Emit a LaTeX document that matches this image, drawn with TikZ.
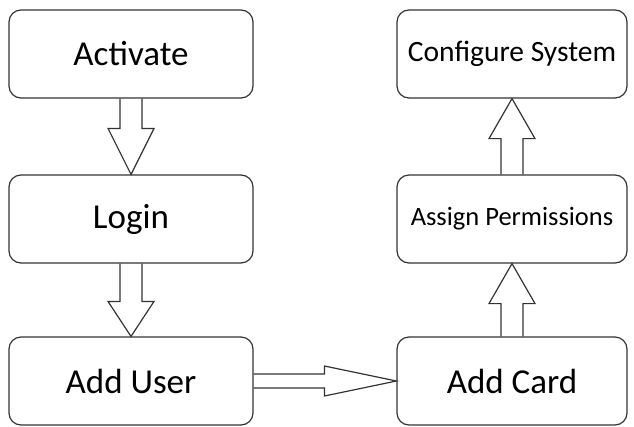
\documentclass[tikz,border=0pt]{standalone}
\usepackage{fontspec}
\setmainfont{Carlito}
\usetikzlibrary{calc}

\newcommand{\flowarrow}[5]{%
  \coordinate (hb) at ($(#2)!#5!(#1)$);
  \draw[arrowline] ($(#1)!#3!90:(#2)$) -- ($(hb)!#3!-90:(#1)$) -- ($(hb)!#4!-90:(#1)$) -- (#2)
    -- ($(hb)!#4!90:(#1)$) -- ($(hb)!#3!90:(#1)$) -- ($(#1)!#3!-90:(#2)$);
}

\begin{document}
\begin{tikzpicture}[x=1pt, y=-1pt,
  flowbox/.style={draw=black!80, line width=1.2pt, rounded corners=12pt, minimum height=88pt, font=\fontsize{35}{42}\selectfont},
  leftbox/.style={flowbox, minimum width=244pt},
  rightbox/.style={flowbox, minimum width=230pt},
  arrowline/.style={draw=black!80, line width=1.2pt, line join=miter}]
  \useasboundingbox (0,0) rectangle (634,426);
  \node[leftbox] (act) at (131,54) {Activate};
  \node[leftbox] (login) at (131,219) {Login};
  \node[leftbox] (adduser) at (131,381) {Add User};
  \node[rightbox, font=\fontsize{29.5}{36}\selectfont] (config) at (512,54) {Configure System};
  \node[rightbox, font=\fontsize{26.5}{32}\selectfont] (assign) at (512,219) {Assign Permissions};
  \node[rightbox] (addcard) at (512,381) {Add Card};
  \flowarrow{act.south}{login.north}{11pt}{23pt}{46pt}
  \flowarrow{login.south}{adduser.north}{11pt}{23pt}{35pt}
  \flowarrow{adduser.east}{addcard.west}{7pt}{15pt}{72pt}
  \flowarrow{addcard.north}{assign.south}{11pt}{23pt}{40pt}
  \flowarrow{assign.north}{config.south}{11pt}{23pt}{40pt}
\end{tikzpicture}
\end{document}
